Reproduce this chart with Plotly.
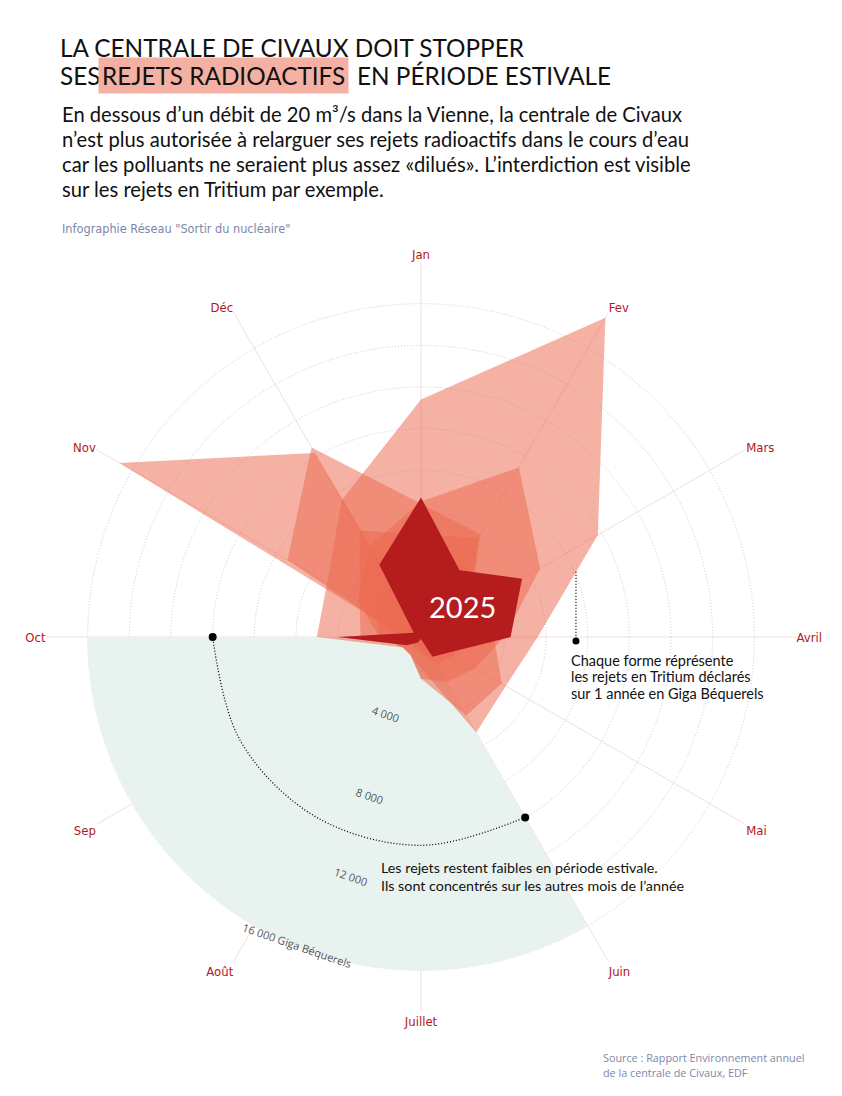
import plotly.graph_objects as go

W, H = 842, 1096
RED_LABEL = "#b3161c"
DARK = "#b41c1e"
FILL = "rgba(235,105,80,0.52)"
SUMMER = "#e8f3ef"
GRID_C = "#c3c9da"
SPOKE = "#f8dcd7"
BLUEGREY = "#7c87a9"

# Data (tritium releases, Giga Bequerels)
months = ["Jan", "Fev", "Mars", "Avril", "Mai", "Juin",
          "Juillet", "Août", "Sep", "Oct", "Nov", "Déc"]
y_a = [11400, 17700, 9800, 5600, 4700, 5300, 1500, 1000, 1000, 5000, 5200, 7600]
y_b = [300, 1200, 1500, 1500, 1200, 1000, 600, 400, 400, 800, 16700, 10200]
y_c = [6500, 9400, 6600, 4000, 3000, 2500, 2000, 1000, 1000, 2000, 3500, 5000]
y_d = [6400, 5700, 2700, 2000, 1800, 1500, 800, 600, 600, 900, 7400, 10500]
y_e = [3500, 4000, 4000, 3500, 4470, 4350, 2000, 1000, 1000, 2000, 2500, 3000]
y_f = [4900, 5500, 2700, 2000, 1500, 1000, 500, 500, 500, 2900, 3400, 5900]
y_2025 = [6700, 3700, 5600, 4300, 1500, 1100, 100, 300, 800, 4000, 400, 4000]
older_years = [y_a, y_b, y_c, y_d, y_e, y_f]

summer_months = ["Juin", "Juillet", "Août", "Sep", "Oct"]
summer_r = 16000
arc_r = 10000
note_r = [8070, 7440]
note_theta = [67.2, 91.5]

r_ticks = [2000, 4000, 6000, 8000, 10000, 12000, 14000, 16000, 18000]
r_text = ["", "4 000", "", "8 000", "", "12 000", "", "16 000 Giga Béquerels", ""]

step = 360 / len(months)
theta = [i * step for i in range(len(months))]
s_idx = [months.index(m) for m in summer_months]
s_theta = [theta[i] for i in s_idx]

fig = go.Figure()

# summer band (Juin -> Oct)
fig.add_trace(go.Barpolar(
    r=[summer_r], theta=[(s_theta[0] + s_theta[-1]) / 2],
    width=[s_theta[-1] - s_theta[0]], marker=dict(color=SUMMER, line_width=0),
    hoverinfo="skip", showlegend=False,
))

for ys in older_years:
    fig.add_trace(go.Scatterpolar(
        r=ys + ys[:1], theta=theta + theta[:1], mode="lines", fill="toself",
        fillcolor=FILL, line=dict(width=0), showlegend=False,
        hovertemplate="%{r:,.0f} GBq<extra></extra>",
    ))

fig.add_trace(go.Scatterpolar(
    r=y_2025 + y_2025[:1], theta=theta + theta[:1], mode="lines", fill="toself",
    fillcolor=DARK, line=dict(width=0), showlegend=False,
    hovertemplate="2025 : %{r:,.0f} GBq<extra></extra>",
))

# dotted arc over the summer months
fig.add_trace(go.Scatterpolar(
    r=[arc_r] * len(s_theta), theta=s_theta, mode="lines",
    line=dict(color="black", width=1.3, dash="1px,2px", shape="spline"),
    hoverinfo="skip", showlegend=False,
))
fig.add_trace(go.Scatterpolar(
    r=[arc_r, arc_r], theta=[s_theta[0], s_theta[-1]], mode="markers",
    marker=dict(color="black", size=8), hoverinfo="skip", showlegend=False,
))
# pointer for the "Chaque forme" note
fig.add_trace(go.Scatterpolar(
    r=note_r, theta=note_theta, mode="lines",
    line=dict(color="black", width=1.3, dash="1px,2px"),
    hoverinfo="skip", showlegend=False,
))
fig.add_trace(go.Scatterpolar(
    r=note_r[1:], theta=note_theta[1:], mode="markers",
    marker=dict(color="black", size=7), hoverinfo="skip", showlegend=False,
))

COND = "DejaVu Sans Condensed, DejaVu Sans"
fig.update_layout(
    width=W, height=H, margin=dict(l=0, r=0, t=0, b=0),
    paper_bgcolor="white", plot_bgcolor="white",
    font=dict(family="Lato, sans-serif", color="#111"),
    polar=dict(
        domain=dict(x=[46 / W, 796 / W], y=[1 - 1012 / H, 1 - 262 / H]),
        bgcolor="rgba(0,0,0,0)",
        angularaxis=dict(
            direction="clockwise", rotation=90, tickmode="array",
            tickvals=theta, ticktext=months, showline=False, ticks="",
            gridcolor=SPOKE, gridwidth=1,
            tickfont=dict(family=COND, size=13, color=RED_LABEL),
        ),
        radialaxis=dict(
            range=[0, 18000], tickvals=r_ticks, ticktext=r_text, angle=259,
            tickangle=-82, showline=False, ticks="", gridcolor=GRID_C,
            griddash="1px,2px", gridwidth=1,
            tickfont=dict(family="Open Sans", size=11, color="#555"),
        ),
    ),
)

def px_note(text, x, y, size, color="#111", family="Lato", xanchor="left", **kw):
    fig.add_annotation(text=text, x=x / W, y=1 - y / H, xref="paper", yref="paper",
                       showarrow=False, xanchor=xanchor, yanchor="middle", align="left",
                       font=dict(size=size, color=color, family=family), **kw)

TF = "Lato"
px_note("LA CENTRALE DE CIVAUX DOIT STOPPER", 58, 47, 24.3, family=TF)
px_note("SES", 58, 76, 24.3, family=TF)
px_note("REJETS RADIOACTIFS", 98, 76, 24.3, family=TF, bgcolor="#f4b0a2", borderpad=3)
px_note("EN PÉRIODE ESTIVALE", 355, 76, 24.3, family=TF)

body = ["En dessous d’un débit de 20 m³/s dans la Vienne, la centrale de Civaux",
        "n’est plus autorisée à relarguer ses rejets radioactifs dans le cours d’eau",
        "car les polluants ne seraient plus assez «dilués». L’interdiction est visible",
        "sur les rejets en Tritium par exemple."]
for i, line in enumerate(body):
    px_note(line, 60, 114 + 25 * i, 20.2)

px_note("Infographie Réseau \"Sortir du nucléaire\"", 60, 228, 12.6, color=BLUEGREY, family=COND)

note1 = ["Chaque forme réprésente", "les rejets en Tritium déclarés",
         "sur 1 année en Giga Béquerels"]
for i, line in enumerate(note1):
    px_note(line, 569, 660 + 16.5 * i, 14.5)
note2 = ["Les rejets restent faibles en période estivale.",
         "Ils sont concentrés sur les autres mois de l’année"]
for i, line in enumerate(note2):
    px_note(line, 379, 867 + 18 * i, 14.3)

px_note("2025", 462, 606, 29, color="white", xanchor="center")
src = ["Source : Rapport Environnement annuel", "de la centrale de Civaux, EDF"]
for i, line in enumerate(src):
    px_note(line, 601, 1057 + 15 * i, 10.8, color=BLUEGREY, family="Open Sans")

fig.write_html("out.html", config={"displayModeBar": False},
               post_script="document.body.style.margin='0';")
